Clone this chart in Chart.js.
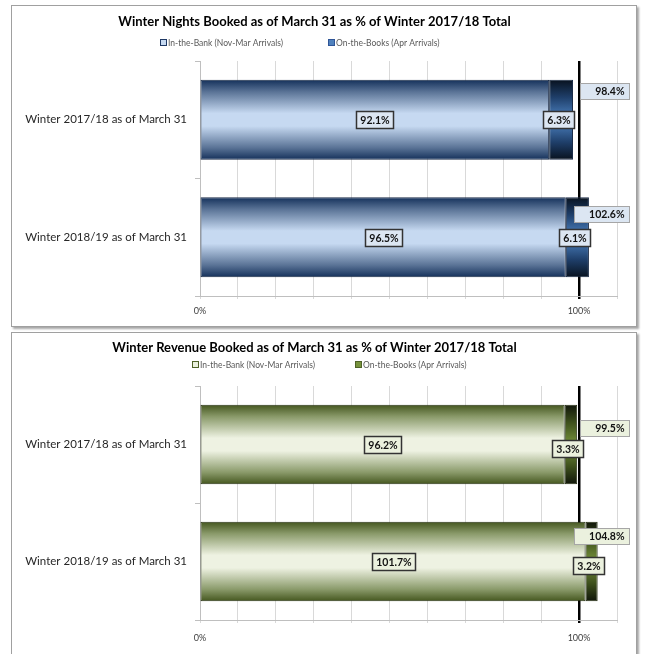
<!DOCTYPE html>
<html><head><meta charset="utf-8">
<script src="https://cdn.jsdelivr.net/npm/chart.js@4.4.0/dist/chart.umd.min.js"></script>
<style>
html,body{margin:0;padding:0;background:#fff;width:645px;height:654px;overflow:hidden;}
.panel{position:absolute;left:11px;width:624px;background:#fff;border:1px solid #a0a0a0;box-shadow:2px 2px 2px rgba(0,0,0,0.35);}
#p1{top:5px;height:320px;}
#p2{top:332px;height:330px;}
canvas{display:block}
</style></head><body>
<div class="panel" id="p1"><canvas id="c1" width="624" height="320"></canvas></div>
<div class="panel" id="p2"><canvas id="c2" width="624" height="321"></canvas></div>
<script>
// ---------- data ----------
const categories = ['Winter 2017/18 as of March 31', 'Winter 2018/19 as of March 31'];
const seriesNames = ['In-the-Bank (Nov-Mar Arrivals)', 'On-the-Books (Apr Arrivals)'];
const nightsTitle = 'Winter Nights Booked as of March 31 as % of Winter 2017/18 Total';
const nightsInBank = [92.1, 96.5];
const nightsOnBooks = [6.3, 6.1];
const nightsTotal = [98.4, 102.6];
const revenueTitle = 'Winter Revenue Booked as of March 31 as % of Winter 2017/18 Total';
const revenueInBank = [96.2, 101.7];
const revenueOnBooks = [3.3, 3.2];
const revenueTotal = [99.5, 104.8];
const xTickLabels = {0: '0%', 100: '100%'};
const xMin = 0, xMax = 110, xStep = 10;

const FONT = 'Lato';
const CAT_PCT = 0.68;

function bandGradient(stops) {
  return function (c) {
    const chart = c.chart;
    const ys = chart.scales.y;
    if (!ys || !chart.chartArea) return stops[Math.floor(stops.length / 2)][1];
    const n = chart.data.labels.length;
    const center = ys.getPixelForValue(c.dataIndex);
    const half = (ys.bottom - ys.top) / n * CAT_PCT / 2;
    const g = chart.ctx.createLinearGradient(0, center - half, 0, center + half);
    stops.forEach(s => g.addColorStop(s[0], s[1]));
    return g;
  };
}

const labelPlugin = {
  id: 'barLabels',
  afterDatasetsDraw(chart, args, opts) {
    const ctx = chart.ctx;
    ctx.save();
    ctx.font = 'bold 10.5px ' + FONT;
    ctx.textBaseline = 'middle';
    chart.data.datasets.forEach((ds, di) => {
      const meta = chart.getDatasetMeta(di);
      meta.data.forEach((el, i) => {
        const txt = ds.data[i].toFixed(1) + '%';
        const cx = (el.x + el.base) / 2 + (opts.dx ? opts.dx[di] : 0);
        const cy = el.y + (opts.dy ? opts.dy[di] : 0);
        const w = Math.round(ctx.measureText(txt).width + 8), h = 17;
        const x0 = Math.round(cx - w / 2) + 0.5, y0 = Math.round(cy - h / 2) + 0.5;
        ctx.fillStyle = opts.fill;
        ctx.fillRect(x0, y0, w, h);
        ctx.lineWidth = 1.5;
        ctx.strokeStyle = '#333';
        ctx.strokeRect(x0, y0, w, h);
        ctx.fillStyle = '#111';
        ctx.textAlign = 'center';
        ctx.fillText(txt, x0 + w / 2, y0 + h / 2 + 0.5);
      });
    });
    const meta0 = chart.getDatasetMeta(0);
    opts.totals.forEach((v, i) => {
      const el = meta0.data[i];
      const txt = v.toFixed(1) + '%';
      const right = chart.chartArea.right + 12;
      const cy = el.y + opts.totalDy[i];
      const w = Math.round(ctx.measureText(txt).width + 20), h = 16;
      const x0 = Math.round(right - w) + 0.5, y0 = Math.round(cy - h / 2) + 0.5;
      ctx.fillStyle = opts.fill;
      ctx.fillRect(x0, y0, w, h);
      ctx.lineWidth = 1;
      ctx.strokeStyle = '#a6a6a6';
      ctx.strokeRect(x0, y0, w, h);
      ctx.fillStyle = '#111';
      ctx.textAlign = 'right';
      ctx.fillText(txt, x0 + w - 5, y0 + h / 2 + 0.5);
    });
    ctx.restore();
  }
};

const legendPlugin = {
  id: 'sideLegend',
  afterDraw(chart, args, opts) {
    const ctx = chart.ctx;
    ctx.save();
    ctx.font = '8.5px ' + FONT;
    ctx.textBaseline = 'middle';
    ctx.textAlign = 'left';
    opts.items.forEach((it, k) => {
      const x = opts.xs[k], y = opts.y;
      ctx.fillStyle = it.fill;
      ctx.fillRect(x + 0.5, y - 3.5, 6, 6);
      ctx.strokeStyle = it.stroke;
      ctx.lineWidth = 1;
      ctx.strokeRect(x + 0.5, y - 3.5, 6, 6);
      ctx.fillStyle = '#595959';
      ctx.fillText(chart.data.datasets[k].label, x + 8, y);
    });
    ctx.restore();
  }
};

function makeChart(id, cfg) {
  return new Chart(document.getElementById(id), {
    type: 'bar',
    data: {
      labels: categories,
      datasets: [
        {label: seriesNames[0], data: cfg.inBank, backgroundColor: bandGradient(cfg.grad1),
         borderColor: cfg.border, borderWidth: 1, borderSkipped: false,
         categoryPercentage: CAT_PCT, barPercentage: 1},
        {label: seriesNames[1], data: cfg.onBooks, backgroundColor: bandGradient(cfg.grad2),
         borderColor: cfg.border, borderWidth: 1, borderSkipped: false,
         categoryPercentage: CAT_PCT, barPercentage: 1}
      ]
    },
    options: {
      indexAxis: 'y',
      responsive: false,
      animation: false,
      layout: {padding: {left: 0, right: 19, top: 0, bottom: 0}},
      scales: {
        x: {
          stacked: true, min: xMin, max: xMax,
          ticks: {stepSize: xStep, autoSkip: false, maxRotation: 0, padding: cfg.xTickPad,
            color: '#404040', font: {family: FONT, size: 9},
            callback: v => (xTickLabels[v] !== undefined ? xTickLabels[v] : '')},
          grid: {
            color: c => (c.tick && c.tick.value === 100 ? '#000' : '#d9d9d9'),
            lineWidth: c => (c.tick && c.tick.value === 100 ? 2.5 : 1),
            tickLength: 3
          },
          border: {color: '#bfbfbf', width: 1},
          afterFit: s => { s.height = cfg.xAxisH; }
        },
        y: {
          stacked: true,
          ticks: {color: '#262626', font: {family: FONT, size: 11.5}, padding: 8},
          grid: {offset: true, drawOnChartArea: false, tickLength: 5, color: '#bfbfbf'},
          border: {color: '#bfbfbf', width: 1},
          afterFit: s => { s.width = 188; }
        }
      },
      plugins: {
        legend: {display: false},
        tooltip: {enabled: false},
        title: {display: true, text: cfg.title, color: '#000',
          font: {family: FONT, size: 13, weight: 'bold'},
          padding: {top: cfg.titleTop, bottom: cfg.titleBottom}},
        barLabels: {fill: cfg.labelFill, totals: cfg.totals, totalDy: cfg.totalDy, dy: cfg.dy, dx: cfg.dx},
        sideLegend: {y: cfg.legendY, xs: cfg.legendXs, items: cfg.legendItems}
      }
    },
    plugins: [labelPlugin, legendPlugin]
  });
}

makeChart('c1', {
  title: nightsTitle, inBank: nightsInBank, onBooks: nightsOnBooks, totals: nightsTotal,
  grad1: [[0, '#14305a'], [0.15, '#5a7396'], [0.42, '#c6d9f1'], [0.58, '#c6d9f1'], [0.85, '#5a7396'], [1, '#14305a']],
  grad2: [[0, '#08121f'], [0.22, '#1f3f6a'], [0.5, '#4f86c6'], [0.78, '#1f3f6a'], [1, '#08121f']],
  border: '#1b2c47', labelFill: '#dce6f2',
  xAxisH: 30, xTickPad: 7, titleTop: 8, titleBottom: 31.4, totalDy: [-29, -23], dy: [0, 0], dx: [0, -3],
  legendY: 37, legendXs: [148, 316],
  legendItems: [{fill: '#c6d9f1', stroke: '#1f3864'}, {fill: '#4f81bd', stroke: '#2f5597'}]
});

makeChart('c2', {
  title: revenueTitle, inBank: revenueInBank, onBooks: revenueOnBooks, totals: revenueTotal,
  grad1: [[0, '#44561e'], [0.15, '#8a9a6a'], [0.42, '#eef2e2'], [0.58, '#eef2e2'], [0.85, '#8a9a6a'], [1, '#44561e']],
  grad2: [[0, '#10150a'], [0.22, '#3d4f1c'], [0.5, '#77933c'], [0.78, '#3d4f1c'], [1, '#10150a']],
  border: '#262f12', labelFill: '#ebf1de',
  xAxisH: 34, xTickPad: 10, titleTop: 7, titleBottom: 30.4, totalDy: [-17, -26], dy: [0, 4], dx: [0, -3],
  legendY: 32, legendXs: [180, 343],
  legendItems: [{fill: '#ebf1de', stroke: '#4f6228'}, {fill: '#77933c', stroke: '#4f6228'}]
});
</script>
</body></html>
